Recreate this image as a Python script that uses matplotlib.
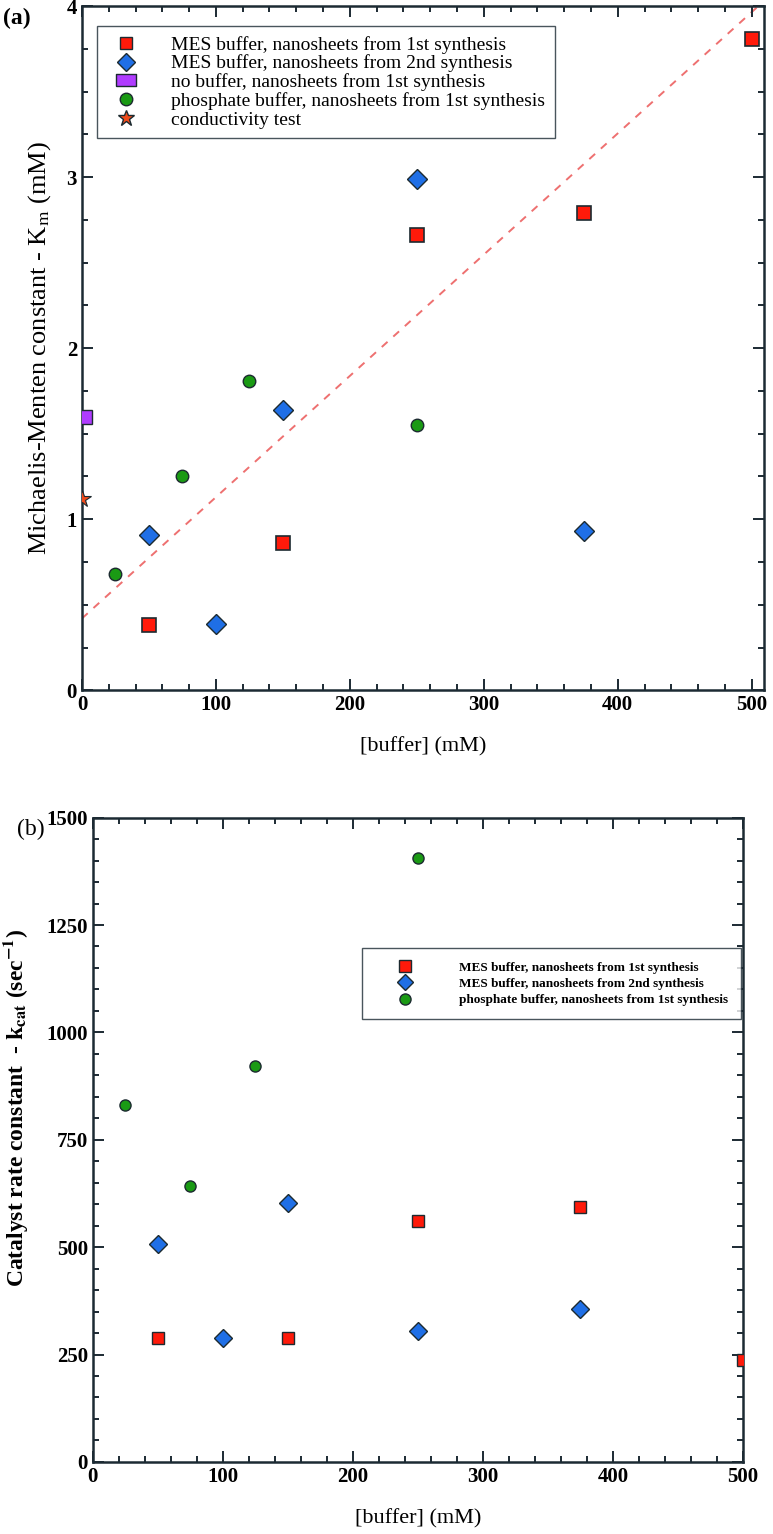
import matplotlib.pyplot as plt
from matplotlib.lines import Line2D
from matplotlib.ticker import MultipleLocator

plt.rcParams['font.family'] = ['Liberation Serif', 'DejaVu Serif']
plt.rcParams['mathtext.fontset'] = 'stix'

# panel (a): Km vs buffer concentration
mes1_x = [50, 150, 250, 375, 500]
mes1_km = [0.38, 0.86, 2.66, 2.79, 3.81]
mes2_x = [50, 100, 150, 250, 375]
mes2_km = [0.91, 0.39, 1.64, 2.99, 0.93]
nobuf_x = [2]
nobuf_km = [1.60]
phos_x = [25, 75, 125, 250]
phos_km = [0.68, 1.25, 1.81, 1.55]
cond_x = [0]
cond_km = [1.12]
fit_intercept = 0.42
fit_slope = 0.00709

# panel (b): kcat vs buffer concentration
mes1_kcat = [288, 288, 560, 593, 237]
mes2_kcat = [508, 288, 602, 305, 356]
phos_kcat = [830, 643, 922, 1405]

labels = ["MES buffer, nanosheets from 1st synthesis",
          "MES buffer, nanosheets from 2nd synthesis",
          "no buffer, nanosheets from 1st synthesis",
          "phosphate buffer, nanosheets from 1st synthesis",
          "conductivity test"]

red = '#ff1a0a'
blue = '#1f6fe6'
green = '#1a9a14'
purple = '#b03cff'
orange = '#ee4a1a'
edge = '#1c2a30'
spine_c = '#1c2a33'

fig = plt.figure(figsize=(7.73, 15.34), dpi=100)
ax1 = fig.add_axes([0.106, 0.550, 0.882, 0.446])
ax2 = fig.add_axes([0.120, 0.047, 0.841, 0.420])


def style(ax, ymaj, ymin):
    ax.xaxis.set_major_locator(MultipleLocator(100))
    ax.xaxis.set_minor_locator(MultipleLocator(20))
    ax.yaxis.set_major_locator(MultipleLocator(ymaj))
    ax.yaxis.set_minor_locator(MultipleLocator(ymin))
    ax.tick_params(which='both', direction='in', top=True, right=True,
                   color=spine_c, width=1.4)
    ax.tick_params(which='major', length=8)
    ax.tick_params(which='minor', length=4)
    for s in ax.spines.values():
        s.set_linewidth(1.8)
        s.set_color(spine_c)


# ---- (a)
style(ax1, 1, 0.25)
ax1.plot([0, 509], [fit_intercept, fit_intercept + fit_slope * 509],
         ls=(0, (4, 4)), color='#ee7070', lw=1.4, zorder=1)
ax1.plot(mes1_x, mes1_km, 's', ms=10.5, mfc=red, mec=edge, mew=1.2, zorder=3)
ax1.plot(mes2_x, mes2_km, 'D', ms=10, mfc=blue, mec=edge, mew=1.0, zorder=3)
ax1.plot(nobuf_x, nobuf_km, 's', ms=10, mfc=purple, mec=edge, mew=1.0, zorder=3)
ax1.plot(phos_x, phos_km, 'o', ms=9, mfc=green, mec=edge, mew=1.0, zorder=3)
ax1.plot(cond_x, cond_km, '*', ms=13, mfc=orange, mec=edge, mew=0.8, zorder=3)
ax1.set_xlim(0, 509)
ax1.set_ylim(0, 4)
for t in ax1.get_xticklabels() + ax1.get_yticklabels():
    t.set_fontsize(15)
    t.set_fontweight('bold')
ax1.set_xlabel("[buffer] (mM)", fontsize=16, labelpad=16)
ax1.set_ylabel("Michaelis-Menten constant - K$_\\mathrm{m}$ (mM)", fontsize=19, labelpad=10)

rect = [(-1.5, -1), (1.5, -1), (1.5, 1), (-1.5, 1), (-1.5, -1)]
handles = [
    Line2D([], [], ls='none', marker='s', ms=9, mfc=red, mec=edge),
    Line2D([], [], ls='none', marker='D', ms=9, mfc=blue, mec=edge),
    Line2D([], [], ls='none', marker=rect, ms=14, mfc=purple, mec=edge),
    Line2D([], [], ls='none', marker='o', ms=9, mfc=green, mec=edge),
    Line2D([], [], ls='none', marker='*', ms=12, mfc=orange, mec=edge),
]
leg1 = ax1.legend(handles, labels, loc='upper left', bbox_to_anchor=(0.022, 0.971),
                  fontsize=14, frameon=True, fancybox=False, borderpad=0.5,
                  handletextpad=1.3, labelspacing=0.05, borderaxespad=0)
leg1.get_frame().set_edgecolor(spine_c)
leg1.get_frame().set_linewidth(1.0)

# ---- (b)
style(ax2, 250, 50)
ax2.plot(mes1_x, mes1_kcat, 's', ms=9, mfc=red, mec=edge, mew=1.0, zorder=3)
ax2.plot(mes2_x, mes2_kcat, 'D', ms=9, mfc=blue, mec=edge, mew=1.0, zorder=3)
ax2.plot(phos_x, phos_kcat, 'o', ms=8, mfc=green, mec=edge, mew=1.0, zorder=3)
ax2.set_xlim(0, 500)
ax2.set_ylim(0, 1500)
for t in ax2.get_xticklabels() + ax2.get_yticklabels():
    t.set_fontsize(15)
    t.set_fontweight('bold')
ax2.set_xlabel("[buffer] (mM)", fontsize=16, labelpad=16)
ax2.set_ylabel("Catalyst rate constant  - k$_\\mathbf{cat}$ (sec$^\\mathbf{-1}$)",
               fontsize=17, fontweight='bold')
ax2.yaxis.set_label_coords(-0.097, 0.55)

labels2 = [labels[0], labels[1], labels[3]]
h2 = [Line2D([], [], ls='none', marker='s', ms=8, mfc=red, mec=edge),
      Line2D([], [], ls='none', marker='D', ms=8, mfc=blue, mec=edge),
      Line2D([], [], ls='none', marker='o', ms=8, mfc=green, mec=edge)]
leg2 = ax2.legend(h2, labels2, loc='upper right', bbox_to_anchor=(0.997, 0.797),
                  prop={'size': 9.5, 'weight': 'bold'}, frameon=True, fancybox=False,
                  borderpad=1.0, handletextpad=1.8, handlelength=4.5,
                  labelspacing=0.3, borderaxespad=0)
leg2.get_frame().set_edgecolor(spine_c)
leg2.get_frame().set_linewidth(1.0)

fig.text(0.004, 0.988, "(a)", fontsize=17, fontweight='bold', va='center')
fig.text(0.022, 0.459, "(b)", fontsize=17, va='center')

fig.savefig("out.png", dpi=100)
